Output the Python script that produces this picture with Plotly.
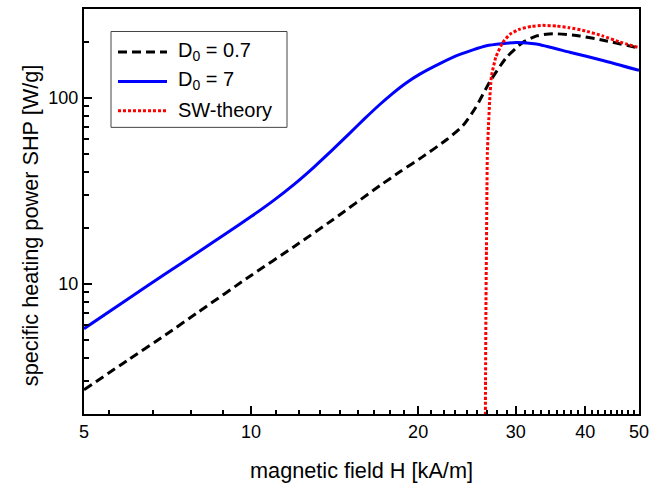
import plotly.graph_objects as go
import math

# ---- data ----
H_d07 = [5.0, 6.0, 7.0, 8.0, 10.0, 12.0, 14.0, 17.08, 18.54, 20.39, 22.5, 24.08, 25.41, 26.92, 28.85, 30.86, 32.7, 34.95, 39.08, 43.7, 50.0]
S_d07 = [2.70, 3.9, 5.3, 7.0, 11.1, 16.0, 22.0, 33.8, 40.0, 48.3, 59.5, 70.9, 88.9, 121.8, 164.8, 198.0, 215.0, 221.0, 215.0, 202.0, 185.0]

H_d7 = [5.0, 6.0, 7.0, 8.0, 9.0, 10.0, 11.0, 12.0, 13.0, 14.0, 15.0, 16.0, 17.0, 18.0, 19.0, 20.14, 21.88, 23.78, 26.56, 30.07, 32.67, 37.5, 43.05, 50.0]
S_d7 = [5.75, 8.3, 11.3, 14.7, 18.6, 23.0, 28.2, 34.6, 42.6, 52.3, 63.8, 77.0, 91.2, 105.7, 119.8, 134.0, 152.7, 171.0, 190.5, 198.3, 194.5, 175.7, 158.8, 140.5]

H_sw = [26.42, 26.45, 26.5, 26.55, 26.6, 26.65, 26.78, 26.9, 27.1, 27.6, 28.4, 29.3, 30.5, 32.0, 33.5, 35.5, 37.5, 40.0, 43.0, 46.0, 50.0]
S_sw = [1.0, 3.0, 8.0, 15.0, 30.0, 50.0, 71.0, 95.0, 130.0, 165.0, 198.0, 220.0, 234.0, 242.0, 245.0, 243.0, 238.0, 229.0, 215.0, 200.0, 186.0]

series_names = ["D<sub>0</sub> = 0.7", "D<sub>0</sub> = 7", "SW-theory"]
series_colors = ["black", "#0000FF", "#FF0000"]
series_dash = ["9px,5px", "solid", "3px,2px"]

x_major = [5, 10, 20, 30, 40, 50]
x_minor = [50/9, 60/9, 70/9, 80/9] + [10 + k*10/9 for k in range(1, 9)] + \
          [20 + k*10/9 for k in range(1, 9)] + [30 + k*10/9 for k in range(1, 9)] + \
          [40 + k*10/9 for k in range(1, 9)]
y_major = [10, 100]
y_minor = [3, 4, 5, 6, 7, 8, 9, 20, 30, 40, 50, 60, 70, 80, 90, 200]

FONT = "Arial, Liberation Sans, sans-serif"
W, H = 664, 486
ML, MR, MT, MB = 84, 25, 7, 65
PW, PH = W - ML - MR, H - MT - MB


def px(xp):
    return (xp - ML) / PW


def py(yp):
    return (H - MB - yp) / PH


fig = go.Figure()
for hx, sy, nm, col, dash, sm in [(H_d07, S_d07, series_names[0], series_colors[0], series_dash[0], 0.6),
                                  (H_d7, S_d7, series_names[1], series_colors[1], series_dash[1], 0.5),
                                  (H_sw, S_sw, series_names[2], series_colors[2], series_dash[2], 0.4)]:
    fig.add_trace(go.Scatter(x=hx, y=sy, mode="lines", name=nm, showlegend=False,
                             line=dict(color=col, width=3, dash=dash, shape="spline", smoothing=sm)))

axis_common = dict(
    showline=True, linecolor="black", linewidth=2, mirror=True,
    ticks="inside", ticklen=8, tickwidth=1.5, tickcolor="black",
    showgrid=False, zeroline=False,
    tickfont=dict(family=FONT, size=18, color="black"),
)

fig.update_xaxes(type="log", range=[math.log10(5), math.log10(50)],
                 tickmode="array", tickvals=x_major, ticktext=[str(v) for v in x_major],
                 minor=dict(tickmode="array", tickvals=x_minor, ticks="inside", ticklen=4,
                            tickwidth=1.5, tickcolor="black", showgrid=False),
                 title=dict(text="magnetic field H [kA/m]", font=dict(family=FONT, size=21.7, color="black"),
                            standoff=22),
                 **axis_common)
fig.update_yaxes(type="log", range=[math.log10(2), math.log10(300)],
                 tickmode="array", tickvals=y_major, ticktext=[str(v) for v in y_major],
                 minor=dict(tickmode="array", tickvals=y_minor, ticks="inside", ticklen=5,
                            tickwidth=1.5, tickcolor="black", showgrid=False),
                 **axis_common)

fig.add_annotation(text="specific heating power SHP [W/g]", textangle=-90,
                   xref="paper", yref="paper", x=px(30), y=py(229), xanchor="center", yanchor="middle",
                   showarrow=False, font=dict(family=FONT, size=21.7, color="black"))

# ---- legend (box, line samples, labels) ----
shapes = [dict(type="rect", xref="paper", yref="paper", x0=px(111), x1=px(287), y0=py(30), y1=py(128),
               line=dict(color="#444444", width=1), fillcolor="white", layer="above")]
rows = [51, 81, 111]
for ry, nm, col, dash in zip(rows, series_names, series_colors, series_dash):
    shapes.append(dict(type="line", xref="paper", yref="paper", x0=px(118), x1=px(167), y0=py(ry), y1=py(ry),
                       line=dict(color=col, width=3, dash=dash), layer="above"))
    fig.add_annotation(text=nm, xref="paper", yref="paper", x=px(176), y=py(ry - 1),
                       xanchor="left", yanchor="middle", showarrow=False,
                       font=dict(family=FONT, size=20, color="black"))

fig.update_layout(
    width=W, height=H,
    margin=dict(l=ML, r=MR, t=MT, b=MB),
    paper_bgcolor="white", plot_bgcolor="white",
    showlegend=False,
    shapes=shapes,
)

fig.write_html("out.html", config={"displayModeBar": False},
               post_script="document.body.style.margin='0px';")
